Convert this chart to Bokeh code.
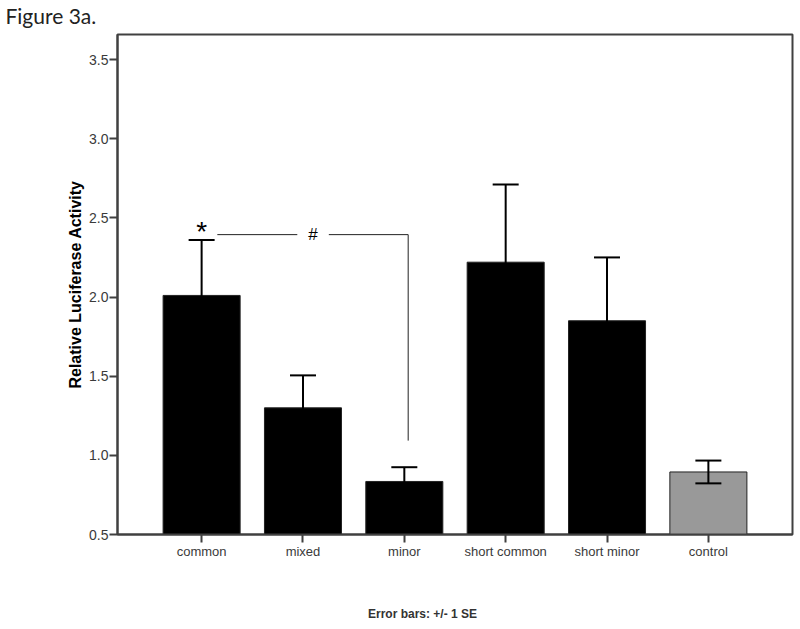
from bokeh.plotting import figure
from bokeh.layouts import column
from bokeh.models import Range1d, FixedTicker, PrintfTickFormatter, Label, ColumnDataSource
from bokeh.core.properties import value
from bokeh.embed import file_html
from bokeh.resources import INLINE

# ---- data ----
categories = ["common", "mixed", "minor", "short common", "short minor", "control"]
means = [2.01, 1.30, 0.835, 2.22, 1.85, 0.895]
se = [0.35, 0.205, 0.09, 0.49, 0.40, 0.072]
bar_colors = ["#000000", "#000000", "#000000", "#000000", "#000000", "#999999"]
y_ticks = [0.5, 1.0, 1.5, 2.0, 2.5, 3.0, 3.5]

# significance bracket (data coordinates)
bracket_x1 = [0.155, 0.944]
bracket_x2 = [1.255, 2.038]
bracket_y = 2.394
bracket_bottom = 1.093
star_pos = (0.0, 2.413)
hash_pos = (1.098, 2.392)

fig_title = "Figure 3a."
footnote = "Error bars: +/- 1 SE"

idx = list(range(len(categories)))
upper = [m + s for m, s in zip(means, se)]
lower = [m - s for m, s in zip(means, se)]

W = 795

# ---- header ----
head = figure(width=W, height=32, output_backend="svg", toolbar_location=None,
              x_range=Range1d(0, W), y_range=Range1d(0, 32),
              x_axis_type=None, y_axis_type=None, min_border=0)
head.frame_align = False
head.outline_line_color = None
head.xgrid.visible = False
head.ygrid.visible = False
head.text(x=[5], y=[17.0], text=[fig_title], text_font=value("Lato"),
          text_font_size="21px", text_baseline="alphabetic", text_align="left",
          text_color="#222222")

# ---- main chart ----
p = figure(width=W, height=532, output_backend="svg", toolbar_location=None,
           x_range=Range1d(-0.83, 5.83), y_range=Range1d(0.5, 3.658),
           min_border_left=117, min_border_right=3, min_border_top=2, min_border_bottom=30)
p.frame_align = False

p.xgrid.visible = False
p.ygrid.visible = False
p.outline_line_color = "#404040"
p.outline_line_width = 2

src = ColumnDataSource(dict(x=idx, top=means, color=bar_colors, up=upper, lo=lower))
p.vbar(x="x", top="top", bottom=0.5, width=0.76, fill_color="color",
       line_color="#222222", line_width=1, source=src)

# error bars
p.segment(x0="x", y0="lo", x1="x", y1="up", line_color="black", line_width=2, source=src)
p.rect(x="x", y="up", width=26, height=2, width_units="screen", height_units="screen",
       fill_color="black", line_color=None, source=src)
p.rect(x="x", y="lo", width=26, height=2, width_units="screen", height_units="screen",
       fill_color="black", line_color=None, source=src)

# bracket
p.segment(x0=[bracket_x1[0], bracket_x2[0], bracket_x2[1]],
          y0=[bracket_y, bracket_y, bracket_y],
          x1=[bracket_x1[1], bracket_x2[1], bracket_x2[1]],
          y1=[bracket_y, bracket_y, bracket_bottom],
          line_color="#222222", line_width=1)

p.add_layout(Label(x=star_pos[0], y=star_pos[1], text="*", text_align="center",
                   text_baseline="alphabetic", text_font="Liberation Sans",
                   text_font_size="28px", text_color="black"))
p.add_layout(Label(x=hash_pos[0], y=hash_pos[1], text="#", text_align="center",
                   text_baseline="alphabetic", text_font="Liberation Sans",
                   text_font_size="17px", text_color="black"))

# axes
for ax in (p.xaxis[0], p.yaxis[0]):
    ax.axis_line_color = "#404040"
    ax.axis_line_width = 2
    ax.major_tick_line_color = "#404040"
    ax.major_tick_line_width = 2
    ax.major_tick_out = 8
    ax.major_tick_in = 0
    ax.minor_tick_line_color = None
    ax.major_label_text_font = "Liberation Sans"
    ax.major_label_text_color = "#3a3a3a"

p.xaxis.ticker = FixedTicker(ticks=idx)
p.xaxis.major_label_overrides = {i: c for i, c in zip(idx, categories)}
p.xaxis.major_label_standoff = 1
p.xaxis.major_label_text_font_size = "13px"

p.yaxis.ticker = FixedTicker(ticks=y_ticks)
p.yaxis.formatter = PrintfTickFormatter(format="%.1f")
p.yaxis.major_label_standoff = 1
p.yaxis.major_label_text_font_size = "14px"
p.yaxis.axis_label = "Relative Luciferase Activity"
p.yaxis.axis_label_text_font = "Liberation Sans"
p.yaxis.axis_label_text_font_style = "bold"
p.yaxis.axis_label_text_font_size = "16px"
p.yaxis.axis_label_text_color = "black"
p.yaxis.axis_label_standoff = 2

# ---- footer ----
foot = figure(width=W, height=61, output_backend="svg", toolbar_location=None,
              x_range=Range1d(0, W), y_range=Range1d(0, 61),
              x_axis_type=None, y_axis_type=None, min_border=0)
foot.frame_align = False
foot.outline_line_color = None
foot.xgrid.visible = False
foot.ygrid.visible = False
foot.text(x=[422], y=[11.5], text=[footnote], text_font=value("Liberation Sans"),
          text_font_style="bold", text_font_size="12px", text_baseline="alphabetic",
          text_align="center", text_color="#333333")

layout = column(head, p, foot, spacing=0)
open("out.html", "w").write(file_html(layout, INLINE))
